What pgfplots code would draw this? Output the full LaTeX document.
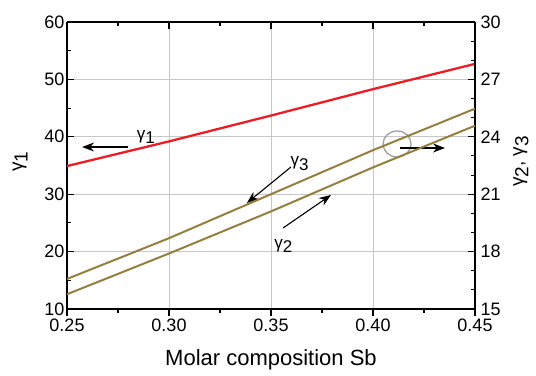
\documentclass[border=0pt]{standalone}
\usepackage{fontspec}
\setmainfont{Liberation Sans}
\usepackage{pgfplots}
\pgfplotsset{compat=1.18}
\usetikzlibrary{arrows.meta}
\definecolor{gred}{RGB}{237,28,36}
\definecolor{gbrown}{RGB}{150,126,62}
\newcommand{\g}[1]{γ\raisebox{-0.5ex}{#1}}
\begin{document}
\begin{tikzpicture}
\pgfplotsset{
  base/.style={
    scale only axis, width=408pt, height=287pt,
    xmin=0.25, xmax=0.45,
    xtick={0.25,0.30,0.35,0.40,0.45},
    minor x tick num=1,
    /pgf/number format/assume math mode=true,
    tick label style={font=\fontsize{18}{20}\selectfont},
    xticklabel style={/pgf/number format/fixed, /pgf/number format/fixed zerofill, /pgf/number format/precision=2},
    axis line style={line width=1.1pt},
    tick style={black, line width=1.1pt},
    major tick length=7pt, minor tick length=4pt,
  }
}
\begin{axis}[base,
  ymin=10, ymax=60, ytick={10,20,30,40,50,60}, minor y tick num=1,
  axis y line*=left,
  ytick pos=left,
  xtick pos=top,
  xticklabels={},
  tick align=inside,
  grid=major,
  grid style={black!22, line width=0.9pt},
  yticklabel style={xshift=1pt},
  xlabel={Molar composition Sb},
  xlabel style={at={(axis description cs:0.5,0)}, anchor=center, yshift=-51pt, font=\fontsize{22}{24}\selectfont},
  ylabel={\g{1}},
  ylabel style={at={(axis description cs:0,0.5)}, anchor=center, yshift=47pt, xshift=4pt, font=\fontsize{19}{22}\selectfont},
]
\addplot[gred, line width=2.3pt] coordinates {(0.25,34.9) (0.30,39.2) (0.35,43.7) (0.40,48.3) (0.45,52.7)};
\node[font=\fontsize{17}{19}\selectfont] at (axis cs:0.2887,40.0) {\g{1}};
\draw[-{Stealth[length=12pt,width=9pt]}, line width=1.1pt] (axis cs:0.2799,38.22) -- (axis cs:0.2574,38.22);
\node[font=\fontsize{17}{19}\selectfont] at (axis cs:0.3640,35.3) {\g{3}};
\draw[-{Stealth[length=12pt,width=9pt]}, line width=1.1pt] (axis cs:0.3598,34.74) -- (axis cs:0.3382,28.47);
\node[font=\fontsize{17}{19}\selectfont] at (axis cs:0.3560,21.0) {\g{2}};
\draw[-{Stealth[length=12pt,width=9pt]}, line width=1.1pt] (axis cs:0.3559,24.11) -- (axis cs:0.3794,29.86);
\draw[black!40, line width=1.2pt] (axis cs:0.4118,38.75) ellipse [x radius=14pt, y radius=13pt];
\draw[-{Stealth[length=12pt,width=9pt]}, line width=1.1pt] (axis cs:0.4132,38.05) -- (axis cs:0.4353,38.05);
\end{axis}
\begin{axis}[base,
  ymin=15, ymax=30, ytick={15,18,21,24,27,30}, minor y tick num=2,
  axis x line=none,
  axis y line*=right,
  tick align=inside,
  yticklabel style={xshift=2pt},
  ylabel={\g{2}, \g{3}},
  ylabel style={at={(axis description cs:1,0.5)}, anchor=center, yshift=-46pt, xshift=4pt, font=\fontsize{19}{22}\selectfont},
]
\addplot[gbrown, line width=2pt] coordinates {(0.25,16.57) (0.30,18.70) (0.35,21.00) (0.40,23.30) (0.45,25.47)};
\addplot[gbrown, line width=2pt] coordinates {(0.25,15.77) (0.30,17.90) (0.35,20.10) (0.40,22.40) (0.45,24.58)};
\end{axis}
\begin{axis}[base,
  ymin=10, ymax=60,
  axis y line=none,
  axis x line*=bottom,
  xtick pos=bottom,
  tick align=outside,
  xticklabel style={yshift=1pt},
]
\end{axis}
\pgfresetboundingbox
\path ([shift={(-67pt,-67pt)}]current axis.south west) rectangle ([shift={(61pt,22pt)}]current axis.north east);
\end{tikzpicture}
\end{document}
